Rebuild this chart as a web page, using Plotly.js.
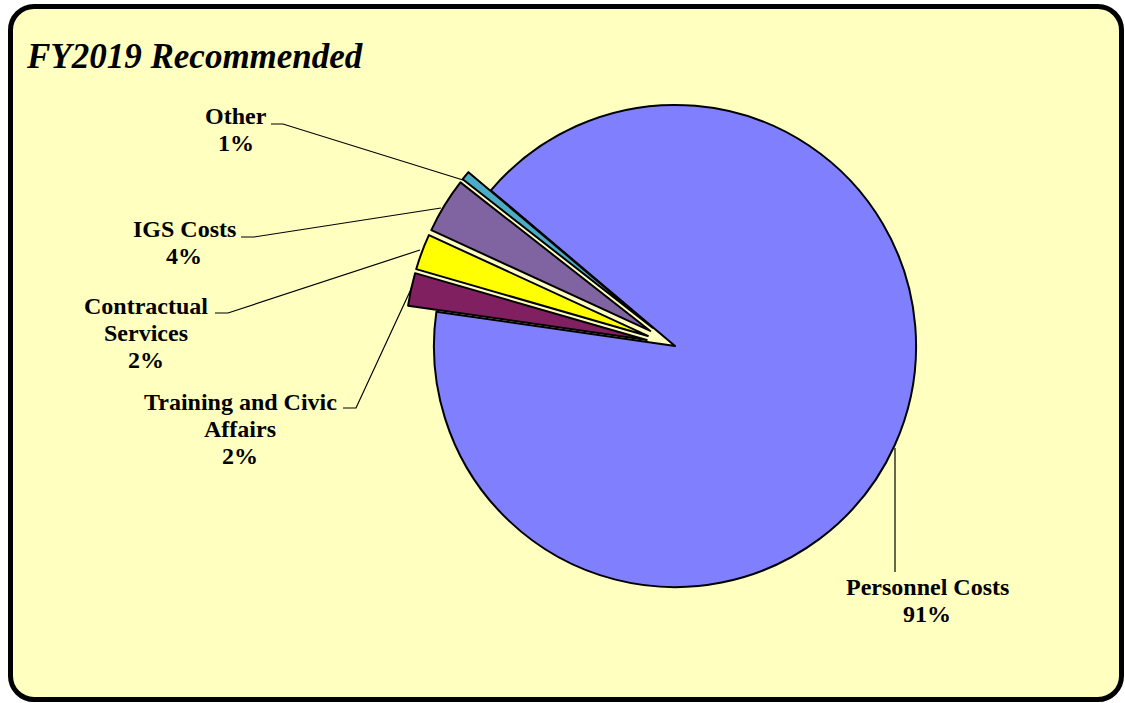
<!DOCTYPE html>
<html>
<head>
<meta charset="utf-8">
<script src="https://cdn.plot.ly/plotly-3.0.1.min.js"></script>
<style>
  html, body { margin: 0; padding: 0; background: #ffffff; }
  #frame { position: absolute; left: 8px; top: 4px; width: 1106px; height: 688px;
           background: #FFFFC0; border: 5px solid #000; border-radius: 26px; }
  #chart { position: absolute; left: 0; top: 0; width: 1125px; height: 703px; }
</style>
</head>
<body>
<div id="frame"></div>
<div id="chart"></div>
<script>
const categories = ["Personnel Costs", "Training and Civic Affairs", "Contractual Services", "IGS Costs", "Other"];
const labelLines = [["Personnel Costs"], ["Training and Civic", "Affairs"], ["Contractual", "Services"], ["IGS Costs"], ["Other"]];
const values = [91.1, 2.2, 2.4, 3.7, 0.6];
const colors = ["#8080FF", "#802060", "#FFFF00", "#8064A2", "#4BACC6"];
const pulls = [0, 0.12, 0.12, 0.12, 0.12];

const W = 1125, H = 703;
const px = (x) => x / W;
const py = (y) => 1 - y / H;

const total = values.reduce((a, b) => a + b, 0);
const pctText = values.map(v => Math.round(v / total * 100) + "%");

// label block: x centre and y of first line (pixels); line step
const labelPos = [[927, 587], [240, 402], [146, 306], [184, 229], [236, 116]];
const lineStep = 27;
const leaders = [
  [[895, 448], [895, 572]],
  [[343, 408], [356, 408], [412, 287]],
  [[215, 313], [228, 313], [420, 250]],
  [[241, 237], [254, 237], [441, 208]],
  [[271, 124], [283, 124], [463, 180]]
];

const annotations = [];
categories.forEach((c, i) => {
  const lines = labelLines[i].concat([pctText[i]]);
  lines.forEach((t, k) => {
    annotations.push({
      text: "<b>" + t + "</b>",
      x: px(labelPos[i][0]), y: py(labelPos[i][1] + k * lineStep),
      xref: "paper", yref: "paper", xanchor: "center", yanchor: "middle",
      showarrow: false, align: "center",
      font: { family: "Liberation Serif, Times New Roman, serif", size: 24, color: "#000" }
    });
  });
});

const shapes = leaders.map(pts => ({
  type: "path", xref: "paper", yref: "paper",
  path: pts.map((p, k) => (k ? "L" : "M") + px(p[0]) + "," + py(p[1])).join(" "),
  line: { color: "#000", width: 1.2 }
}));

const trace = {
  type: "pie",
  labels: categories,
  values: values,
  sort: false,
  direction: "clockwise",
  rotation: -49.8,
  pull: pulls,
  textinfo: "none",
  hoverinfo: "skip",
  marker: { colors: colors, line: { color: "#000", width: 2 } },
  domain: { x: [0.3, 0.9], y: [py(616), py(76)] }
};

const layout = {
  width: W, height: H,
  margin: { l: 0, r: 0, t: 0, b: 0 },
  paper_bgcolor: "rgba(0,0,0,0)",
  plot_bgcolor: "rgba(0,0,0,0)",
  showlegend: false,
  title: {
    text: "<b><i>FY2019 Recommended</i></b>",
    x: px(27), xanchor: "left", y: py(56), yanchor: "middle",
    font: { family: "Liberation Serif, Times New Roman, serif", size: 35, color: "#000" }
  },
  annotations: annotations,
  shapes: shapes
};

Plotly.newPlot("chart", [trace], layout, { displayModeBar: false, staticPlot: true });
</script>
</body>
</html>
